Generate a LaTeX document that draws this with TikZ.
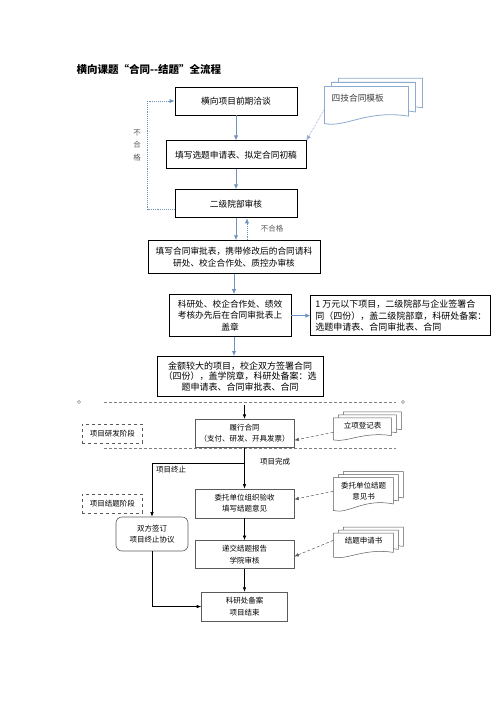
\documentclass[tikz,border=0pt]{standalone}
\usepackage{fontspec}
\setmainfont{Noto Sans CJK SC}
\usetikzlibrary{arrows.meta,positioning,calc}
\definecolor{flowblue}{HTML}{6F93C0}
\definecolor{sheetblue}{HTML}{8FAAD0}
\definecolor{stagegray}{HTML}{5A5A5A}
\pgfdeclarelayer{bg}
\pgfsetlayers{bg,main}
\newcommand{\docsheets}[5]{%
  \begin{pgfonlayer}{bg}
    \foreach \k in {2,1,0}{
      \draw[#5, shift={(#1.north west)}, shift={(\k*#4,-0.6*\k*#4)}]
        (0,0) -- (#2,0) -- (#2,0.8*#3) .. controls (0.5*#2,0.62*#3) and (0.25*#2,1.12*#3) .. (0,#3) -- cycle;
    }
  \end{pgfonlayer}}

\begin{document}
\begin{tikzpicture}[
  x=1pt, y=-1pt,
  font=\fontsize{8.7}{12.5}\selectfont,
  box/.style={draw, line width=0.9pt, align=center, minimum height=28pt, inner sep=2pt},
  wide/.style={box, font=\fontsize{9}{11.5}\selectfont},
  arrow/.style={-{Latex[length=5pt,width=4.5pt]}, line width=1pt, draw=flowblue},
  recheck/.style={-{Latex[length=5pt,width=4.5pt]}, densely dotted, line width=0.9pt, draw=flowblue},
  note/.style={font=\fontsize{7.5}{12.5}\selectfont, text=black!65, align=center},
  stepbox/.style={draw=stagegray, line width=0.6pt, align=center, minimum width=99pt, minimum height=28pt, inner sep=1pt, font=\fontsize{7.5}{11.5}\selectfont},
  stage/.style={draw=stagegray, dashed, line width=0.5pt, minimum width=60pt, minimum height=19pt, font=\fontsize{7.5}{9}\selectfont},
  flow/.style={-{Latex[length=4.5pt,width=3.5pt]}, line width=0.6pt},
  feed/.style={-{Latex[length=4.5pt,width=3.5pt]}, densely dashed, line width=0.5pt, draw=stagegray},
  sheet/.style={draw=stagegray, fill=white, line width=0.5pt},
  docnode/.style={inner sep=0pt, align=center, font=\fontsize{7.5}{11}\selectfont},
  sep/.style={dash pattern=on 3pt off 2pt, draw=gray, line width=0.5pt}
]
\useasboundingbox (0,0) rectangle (496,702);

\node[font=\bfseries\fontsize{10.5}{12}\selectfont, anchor=west] (title) at (73,69) {横向课题“合同-{}-结题”全流程};

% contract stage
\node[box, minimum width=122pt] (talk) at (236,101) {横向项目前期洽谈};
\node[box, minimum width=140pt, below=25pt of talk] (draft) {填写选题申请表、拟定合同初稿};
\node[box, minimum width=122pt, below=20pt of draft] (college) {二级院部审核};
\node[box, minimum width=172pt, minimum height=33pt, below=22pt of college, xshift=-2pt] (approve) {填写合同审批表，携带修改后的合同请科\\研处、校企合作处、质控办审核};
\node[box, minimum width=122pt, minimum height=42pt, below=20pt of approve, xshift=-4pt, font=\fontsize{8.7}{11.5}\selectfont] (stamp) {科研处、校企合作处、绩效\\考核办先后在合同审批表上\\盖章};
\node[wide, minimum width=180pt, minimum height=40pt, right=19pt of stamp, align=left] (small) {1 万元以下项目，二级院部与企业签署合\\同（四份），盖二级院部章，科研处备案：\\选题申请表、合同审批表、合同};
\node[wide, minimum width=166pt, minimum height=40pt, below=19pt of stamp, xshift=10pt, font=\fontsize{9}{10.5}\selectfont] (large) {金额较大的项目，校企双方签署合同\\（四份），盖学院章，科研处备案：选\\题申请表、合同审批表、合同};
\node[docnode, minimum width=84pt, minimum height=22pt, text width=70pt, align=left, right=27pt of talk.north east, anchor=north west, font=\fontsize{8.7}{11}\selectfont, text=black!75] (template) {四技合同模板};
\docsheets{template}{84}{37}{7}{sheet, draw=sheetblue, line width=0.8pt}

\node[note] (fail-a) at (137,145) {不\\合\\格};
\node[note] (fail-b) at (272,229) {不合格};

\draw[arrow] (talk) -- (draft);
\draw[arrow] (draft) -- (college);
\draw[arrow] (college) -- (college.south |- approve.north);
\draw[recheck] ([xshift=11pt]college.south |- approve.north) -- ([xshift=11pt]college.south);
\draw[arrow] (approve.south) -- (approve.south |- stamp.north);
\draw[arrow] (stamp) -- (small);
\draw[arrow] (approve.south |- stamp.south) -- (approve.south |- large.north);
\draw[recheck] ([yshift=-6pt]college.west) -- ++(-27,0) |- (talk.west);
\draw[recheck, draw=sheetblue, line width=0.7pt] (template.south west) -- (draft.north east);

% project stages
\draw[sep] (104,402) -- (396,402);
\draw[sep] (104,448) -- (396,448);
\draw[gray, line width=0.5pt] (79,402) circle (1.6pt) (403,402) circle (1.6pt);

\node[stepbox, below=22pt of large, xshift=4.5pt] (perform) {履行合同\\（支付、研发、开具发票）};
\node[stage, left=52pt of perform] (develop) {项目研发阶段};
\node[docnode, minimum width=58pt, minimum height=14pt, right=39pt of perform.north east, anchor=north west, yshift=1pt] (register) {立项登记表};
\docsheets{register}{58}{22}{5}{sheet}
\node[stepbox, minimum height=29pt, below=41pt of perform] (accept) {委托单位组织验收\\填写结题意见};
\node[stage, left=52pt of accept] (conclude) {项目结题阶段};
\node[docnode, minimum width=60pt, minimum height=27pt, right=39pt of accept.north east, anchor=north west, yshift=11pt] (opinion) {委托单位结题\\意见书};
\docsheets{opinion}{60}{33}{5}{sheet}
\node[stepbox, below=22pt of accept] (submit) {递交结题报告\\学院审核};
\node[docnode, minimum width=60pt, minimum height=14pt, right=39pt of submit.north east, anchor=north west, yshift=7pt] (apply) {结题申请书};
\docsheets{apply}{60}{24}{5}{sheet}
\node[stepbox, minimum width=86pt, minimum height=29pt, below=23pt of submit] (finish) {科研处备案\\项目结束};
\node[stepbox, rounded corners=6pt, minimum width=72pt, minimum height=34pt] (terminate) at (152,534) {双方签订\\项目终止协议};

\node[note, text=black] (done) at (275,462) {项目完成};
\node[note, text=black] (halt) at (171,470) {项目终止};

\coordinate (split) at ($(perform.south)!0.38!(accept.north)$);
\draw[flow] ([yshift=-8pt]large.south -| perform.north) -- (perform.north);
\draw[flow] (perform) -- (accept);
\draw[flow] (split) -| (terminate.north);
\draw[flow] (accept) -- (submit);
\draw[flow] (submit) -- (finish);
\draw[flow] (terminate.south) |- (finish.west);
\draw[feed] (register.south west) -- ([yshift=-7pt]perform.east);
\draw[feed] (opinion.west) -- ([yshift=4pt]accept.east);
\draw[feed] (apply.west) -- ([yshift=-2pt]submit.east);
\end{tikzpicture}
\end{document}
